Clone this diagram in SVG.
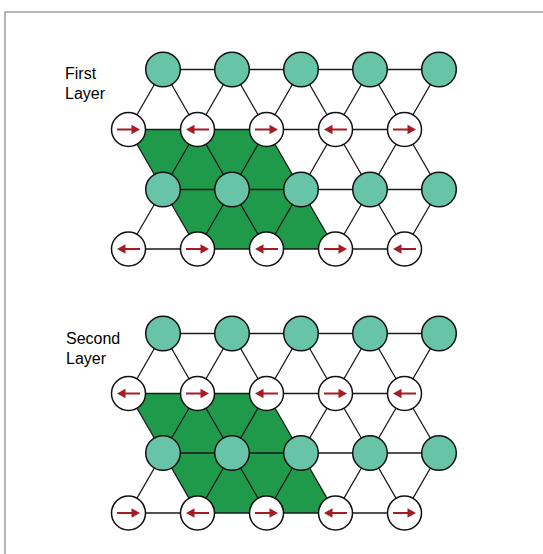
<svg xmlns="http://www.w3.org/2000/svg" xmlns:xlink="http://www.w3.org/1999/xlink" width="543" height="554" viewBox="0 0 543 554">
<style>
.frame{fill:none;stroke:#a6a6a6;stroke-width:1.6}
.e{stroke:#1a1a1a;stroke-width:1.3;fill:none}
.g{fill:#68c4a6;stroke:#111;stroke-width:1.5}
.w{fill:#fff;stroke:#111;stroke-width:1.5}
.reg{fill:#1f9a4a;stroke:none}
.lbl{font-family:"Liberation Sans",Arial,sans-serif;font-size:16px;fill:#000}
.arl{stroke:#a51c24;stroke-width:2}
.arh{fill:#a51c24}
</style>
<defs>
<g id="ar"><line class="arl" x1="-11.5" y1="0" x2="4" y2="0"/><polygon class="arh" points="3,-4.8 11.5,0 3,4.8"/></g>
</defs>
<rect class="frame" x="5" y="12" width="700" height="700"/>
<text class="lbl" x="65" y="79">First</text>
<text class="lbl" x="65" y="99">Layer</text>
<text class="lbl" x="66" y="344">Second</text>
<text class="lbl" x="66" y="364">Layer</text>

<g id="region-top"><polygon class="reg" points="128.5,129.5 266.5,129.5 335.5,249 197.5,249"/></g>
<g id="region-bottom"><polygon class="reg" points="128.5,393.5 266.5,393.5 335.5,513 197.5,513"/></g>

<g id="connectors">
<!-- top panel horizontals -->
<path class="e" d="M163,69.5H439 M128.5,129.5H404.5 M163,189.5H439 M128.5,249H404.5"/>
<!-- top diagonals row1-row2 -->
<path class="e" d="M163,69.5L128.5,129.5 M163,69.5L197.5,129.5 M232,69.5L197.5,129.5 M232,69.5L266.5,129.5 M301,69.5L266.5,129.5 M301,69.5L335.5,129.5 M370,69.5L335.5,129.5 M370,69.5L404.5,129.5 M439,69.5L404.5,129.5"/>
<path class="e" d="M163,189.5L128.5,129.5 M163,189.5L197.5,129.5 M232,189.5L197.5,129.5 M232,189.5L266.5,129.5 M301,189.5L266.5,129.5 M301,189.5L335.5,129.5 M370,189.5L335.5,129.5 M370,189.5L404.5,129.5 M439,189.5L404.5,129.5"/>
<path class="e" d="M163,189.5L128.5,249 M163,189.5L197.5,249 M232,189.5L197.5,249 M232,189.5L266.5,249 M301,189.5L266.5,249 M301,189.5L335.5,249 M370,189.5L335.5,249 M370,189.5L404.5,249 M439,189.5L404.5,249"/>
<!-- bottom panel -->
<path class="e" d="M163,333.5H439 M128.5,393.5H404.5 M163,453H439 M128.5,513H404.5"/>
<path class="e" d="M163,333.5L128.5,393.5 M163,333.5L197.5,393.5 M232,333.5L197.5,393.5 M232,333.5L266.5,393.5 M301,333.5L266.5,393.5 M301,333.5L335.5,393.5 M370,333.5L335.5,393.5 M370,333.5L404.5,393.5 M439,333.5L404.5,393.5"/>
<path class="e" d="M163,453L128.5,393.5 M163,453L197.5,393.5 M232,453L197.5,393.5 M232,453L266.5,393.5 M301,453L266.5,393.5 M301,453L335.5,393.5 M370,453L335.5,393.5 M370,453L404.5,393.5 M439,453L404.5,393.5"/>
<path class="e" d="M163,453L128.5,513 M163,453L197.5,513 M232,453L197.5,513 M232,453L266.5,513 M301,453L266.5,513 M301,453L335.5,513 M370,453L335.5,513 M370,453L404.5,513 M439,453L404.5,513"/>
</g>

<!-- top panel nodes -->
<g id="t-g1-1"><circle class="g" cx="163" cy="69.5" r="17.3"/></g>
<g id="t-g1-2"><circle class="g" cx="232" cy="69.5" r="17.3"/></g>
<g id="t-g1-3"><circle class="g" cx="301" cy="69.5" r="17.3"/></g>
<g id="t-g1-4"><circle class="g" cx="370" cy="69.5" r="17.3"/></g>
<g id="t-g1-5"><circle class="g" cx="439" cy="69.5" r="17.3"/></g>
<g id="t-w2-1"><circle class="w" cx="128.5" cy="129.5" r="17"/><use xlink:href="#ar" transform="translate(128.5,129.5)"/></g>
<g id="t-w2-2"><circle class="w" cx="197.5" cy="129.5" r="17"/><use xlink:href="#ar" transform="translate(197.5,129.5) scale(-1,1)"/></g>
<g id="t-w2-3"><circle class="w" cx="266.5" cy="129.5" r="17"/><use xlink:href="#ar" transform="translate(266.5,129.5)"/></g>
<g id="t-w2-4"><circle class="w" cx="335.5" cy="129.5" r="17"/><use xlink:href="#ar" transform="translate(335.5,129.5) scale(-1,1)"/></g>
<g id="t-w2-5"><circle class="w" cx="404.5" cy="129.5" r="17"/><use xlink:href="#ar" transform="translate(404.5,129.5)"/></g>
<g id="t-g3-1"><circle class="g" cx="163" cy="189.5" r="17.3"/></g>
<g id="t-g3-2"><circle class="g" cx="232" cy="189.5" r="17.3"/></g>
<g id="t-g3-3"><circle class="g" cx="301" cy="189.5" r="17.3"/></g>
<g id="t-g3-4"><circle class="g" cx="370" cy="189.5" r="17.3"/></g>
<g id="t-g3-5"><circle class="g" cx="439" cy="189.5" r="17.3"/></g>
<g id="t-w4-1"><circle class="w" cx="128.5" cy="249" r="17"/><use xlink:href="#ar" transform="translate(128.5,249) scale(-1,1)"/></g>
<g id="t-w4-2"><circle class="w" cx="197.5" cy="249" r="17"/><use xlink:href="#ar" transform="translate(197.5,249)"/></g>
<g id="t-w4-3"><circle class="w" cx="266.5" cy="249" r="17"/><use xlink:href="#ar" transform="translate(266.5,249) scale(-1,1)"/></g>
<g id="t-w4-4"><circle class="w" cx="335.5" cy="249" r="17"/><use xlink:href="#ar" transform="translate(335.5,249)"/></g>
<g id="t-w4-5"><circle class="w" cx="404.5" cy="249" r="17"/><use xlink:href="#ar" transform="translate(404.5,249) scale(-1,1)"/></g>

<!-- bottom panel nodes -->
<g id="b-g1-1"><circle class="g" cx="163" cy="333.5" r="17.3"/></g>
<g id="b-g1-2"><circle class="g" cx="232" cy="333.5" r="17.3"/></g>
<g id="b-g1-3"><circle class="g" cx="301" cy="333.5" r="17.3"/></g>
<g id="b-g1-4"><circle class="g" cx="370" cy="333.5" r="17.3"/></g>
<g id="b-g1-5"><circle class="g" cx="439" cy="333.5" r="17.3"/></g>
<g id="b-w2-1"><circle class="w" cx="128.5" cy="393.5" r="17"/><use xlink:href="#ar" transform="translate(128.5,393.5) scale(-1,1)"/></g>
<g id="b-w2-2"><circle class="w" cx="197.5" cy="393.5" r="17"/><use xlink:href="#ar" transform="translate(197.5,393.5)"/></g>
<g id="b-w2-3"><circle class="w" cx="266.5" cy="393.5" r="17"/><use xlink:href="#ar" transform="translate(266.5,393.5) scale(-1,1)"/></g>
<g id="b-w2-4"><circle class="w" cx="335.5" cy="393.5" r="17"/><use xlink:href="#ar" transform="translate(335.5,393.5)"/></g>
<g id="b-w2-5"><circle class="w" cx="404.5" cy="393.5" r="17"/><use xlink:href="#ar" transform="translate(404.5,393.5) scale(-1,1)"/></g>
<g id="b-g3-1"><circle class="g" cx="163" cy="453" r="17.3"/></g>
<g id="b-g3-2"><circle class="g" cx="232" cy="453" r="17.3"/></g>
<g id="b-g3-3"><circle class="g" cx="301" cy="453" r="17.3"/></g>
<g id="b-g3-4"><circle class="g" cx="370" cy="453" r="17.3"/></g>
<g id="b-g3-5"><circle class="g" cx="439" cy="453" r="17.3"/></g>
<g id="b-w4-1"><circle class="w" cx="128.5" cy="513" r="17"/><use xlink:href="#ar" transform="translate(128.5,513)"/></g>
<g id="b-w4-2"><circle class="w" cx="197.5" cy="513" r="17"/><use xlink:href="#ar" transform="translate(197.5,513) scale(-1,1)"/></g>
<g id="b-w4-3"><circle class="w" cx="266.5" cy="513" r="17"/><use xlink:href="#ar" transform="translate(266.5,513)"/></g>
<g id="b-w4-4"><circle class="w" cx="335.5" cy="513" r="17"/><use xlink:href="#ar" transform="translate(335.5,513) scale(-1,1)"/></g>
<g id="b-w4-5"><circle class="w" cx="404.5" cy="513" r="17"/><use xlink:href="#ar" transform="translate(404.5,513)"/></g>
</svg>
